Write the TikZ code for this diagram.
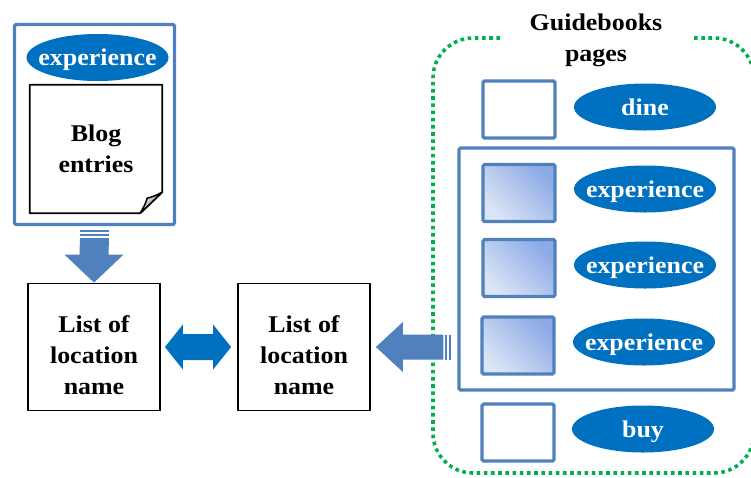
\documentclass[tikz,border=0pt]{standalone}
\usepackage{fontspec}
\setmainfont[FakeStretch=1.08]{Liberation Serif}
\usetikzlibrary{calc,shapes.geometric}

\definecolor{frameblue}{HTML}{5081BD}
\definecolor{tagblue}{HTML}{0070C0}
\definecolor{dotgreen}{HTML}{00B050}
\definecolor{shadelight}{HTML}{DCE5F6}
\definecolor{shadedark}{HTML}{8CAAE6}
\definecolor{foldgrey}{HTML}{C8C8C8}

\tikzset{
  txt/.style={font=\fontsize{24}{31}\selectfont\bfseries, align=center},
  tag/.style={ellipse, fill=tagblue, text=white, inner xsep=-11pt, inner ysep=0pt,
    text depth=0pt, minimum width=142pt, minimum height=47pt, txt},
  bluebox/.style={draw=frameblue, line width=3.2pt, rounded corners=1.5pt},
  page/.style={bluebox, minimum width=72pt, minimum height=57pt, inner sep=0pt},
  shadedpage/.style={page, top color=shadedark, bottom color=shadelight, shading angle=-45},
  listbox/.style={draw=black, line width=1.8pt, minimum width=132pt,
    minimum height=127pt, inner sep=0pt},
  blockarrow/.style={fill=frameblue},
  dblarrow/.style={fill=tagblue},
  guide/.style={draw=dotgreen, line width=3.6pt, dash pattern=on 3.6pt off 3.6pt,
    rounded corners=40pt}
}

\begin{document}
\begin{tikzpicture}[x=1pt, y=-1pt]
\useasboundingbox (0,0) rectangle (751,477);

% ---- left column: blog entries ----
\node[bluebox, minimum width=160pt, minimum height=200pt, inner sep=0pt]
  (blogframe) at (94.5,124.5) {};
\node[tag] (blogtag) at (97.5,57.5) {experience};
\node[minimum width=132pt, minimum height=128pt, inner sep=0pt, txt]
  (blog) at (96,149) {Blog\\entries};
% sheet with a turned-up corner
\draw[line width=1.8pt, line join=round]
  (blog.north west) -- (blog.north east) -- ($(blog.south east)+(0,-21)$)
  -- ($(blog.south east)+(-22,0)$) -- (blog.south west) -- cycle;
\draw[line width=1.5pt, fill=foldgrey, line join=round]
  ($(blog.south east)+(0,-21)$) -- ($(blog.south east)+(-22,0)$)
  .. controls ($(blog.south east)+(-17,-9)$) .. ($(blog.south east)+(-15,-15)$)
  .. controls ($(blog.south east)+(-8,-17)$) .. cycle;

% ---- location lists ----
\node[listbox] (listA) at (94,347) {};
\node[txt] (listAtext) at ($(listA.center)+(0,8)$) {List of\\location\\name};
\node[listbox] (listB) at (304,347) {};
\node[txt] (listBtext) at ($(listB.center)+(0,8)$) {List of\\location\\name};

% ---- guidebook pages ----
\node[txt] (guidetitle) at (596,40) {Guidebooks\\pages};
\draw[guide] (500,38) -- (433,38) -- (433,473) -- (754,473) -- (754,38) -- (693,38);

\node[page] (dinepage) at (519,109.5) {};
\node[tag] (dinetag) at (645,107) {dine};

\node[bluebox, minimum width=275pt, minimum height=242pt, inner sep=0pt]
  (expgroup) at (596.5,269) {};
\node[shadedpage] (exppage1) at (519,193) {};
\node[tag] (exptag1) at (645,189) {experience};
\node[shadedpage] (exppage2) at (519,268) {};
\node[tag] (exptag2) at (645,265) {experience};
\node[shadedpage] (exppage3) at (518,345.5) {};
\node[tag] (exptag3) at (644,342) {experience};

\node[page] (buypage) at (518,432.5) {};
\node[tag] (buytag) at (643,429) {buy};

% ---- block arrows ----
% blog entries down to the first list
\coordinate (dTop) at ($(blogframe.south)+(0,4)$);
\coordinate (dTip) at (listA.north);
\fill[blockarrow] ($(dTop)+(-14.5,0)$) rectangle ($(dTop)+(14.5,2)$);
\fill[blockarrow] ($(dTop)+(-14.5,4)$) rectangle ($(dTop)+(14.5,6)$);
\fill[blockarrow] ($(dTop)+(-14.5,8)$) -- ($(dTop)+(14.5,8)$)
  -- ($(dTip)+(14.5,-28)$) -- ($(dTip)+(29.5,-28)$) -- (dTip)
  -- ($(dTip)+(-29.5,-28)$) -- ($(dTip)+(-14.5,-28)$) -- cycle;

% guidebook pages to the second list
\coordinate (lTip) at ($(listB.east)+(5,0)$);
\coordinate (lTail) at ($(expgroup.west |- listB.east)+(-6,0)$);
\fill[blockarrow] ($(lTail)+(0,-12.5)$) rectangle ($(lTail)+(-2,12.5)$);
\fill[blockarrow] ($(lTail)+(-4,-12.5)$) rectangle ($(lTail)+(-6,12.5)$);
\fill[blockarrow] ($(lTail)+(-8,-12.5)$) -- ($(lTail)+(-8,12.5)$)
  -- ($(lTip)+(27,12.5)$) -- ($(lTip)+(27,25)$) -- (lTip)
  -- ($(lTip)+(27,-25)$) -- ($(lTip)+(27,-12.5)$) -- cycle;

% two-way link between the lists
\coordinate (bL) at ($(listA.east)+(4,0)$);
\coordinate (bR) at ($(listB.west)+(-6,0)$);
\fill[dblarrow] (bL) -- ($(bL)+(18,-22.5)$) -- ($(bL)+(18,-13)$)
  -- ($(bR)+(-18,-13)$) -- ($(bR)+(-18,-22.5)$) -- (bR)
  -- ($(bR)+(-18,22.5)$) -- ($(bR)+(-18,13)$)
  -- ($(bL)+(18,13)$) -- ($(bL)+(18,22.5)$) -- cycle;
\end{tikzpicture}
\end{document}
